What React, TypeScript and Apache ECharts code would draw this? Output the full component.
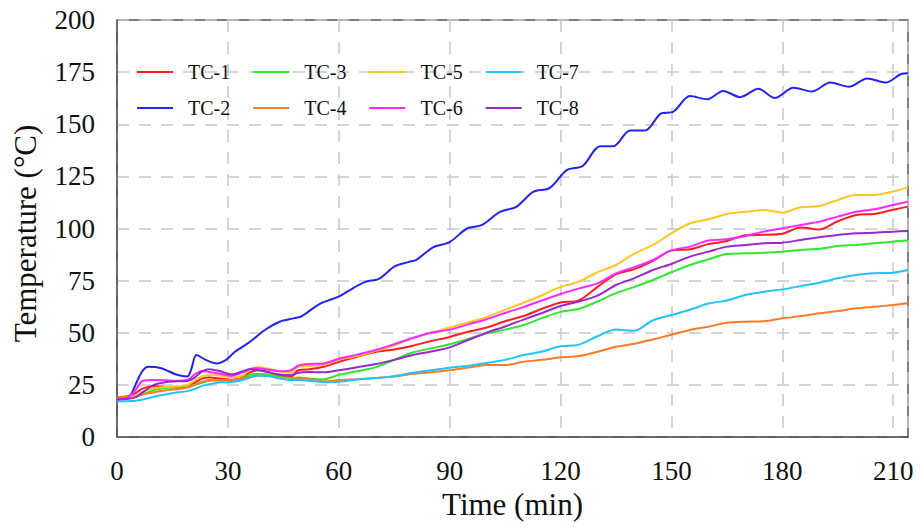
import React, { useEffect, useRef } from "react";
import * as echarts from "echarts";

const times = [0,3,5,7,10,13,16,19,21,23,25,28,31,34,36,38,41,44,47,49,52,56,60,65,70,75,80,85,90,95,100,105,110,115,120,125,130,135,140,145,150,155,160,165,170,175,180,185,190,195,200,205,210,214];

const tc1 = [19,19.5,21,23.3,24.5,24,23.8,24,26,28,28.5,28,27.5,28.5,31,32,31.2,29.5,28.8,32,32.5,33.7,36,38.5,40.8,42,43.8,46,48,50.5,52.5,55.5,58,61.5,64.5,65.5,72,78,80.5,84.5,89.5,90,92.5,94,96.8,97,97.5,100.5,99.5,103.5,106.5,107,109,110.5];
const tc3 = [18.5,18.8,19.3,20.5,22.5,23.5,23.8,24.1,25,26,27,27.3,27.3,28,30,30.2,30,28.8,28.3,28.1,28,27.7,29.8,31.5,33.5,37,40.5,42.5,44.5,47,49.7,51.5,53.7,57,60,61.5,65,69,72,75.3,79,82.5,85.2,87.8,88.1,88.4,88.9,89.7,90.3,91.6,92.1,92.9,93.7,94.2];
const tc4 = [19,19.3,19.7,20.5,21.5,22.3,22.9,23.7,25,26.5,27.3,27,27.2,28,29,29.4,29.2,28.2,27.3,28.5,27.9,26.7,27.3,27.7,28.3,29,30.3,31,32,33.3,34.5,34.5,36.1,37,38.2,38.8,40.9,43.3,44.7,46.8,49,51.3,52.9,54.8,55.3,55.5,56.9,58,59.3,60.4,61.7,62.5,63.3,64.1];
const tc5 = [18.5,18.8,19.3,21.5,23.5,24,24.3,25,27,29,29.7,29.5,28.8,29.5,32.5,33.4,32.8,31.5,30.8,33.7,34,34.7,37,38.8,41.3,44,47.3,50,52.5,55,57.5,61,64.4,68,72,74.5,79,82.5,88,92.1,97.7,102.5,104.4,107,108,108.9,107.6,110.2,110.8,113.7,116.1,116.1,117.7,119.6];
const tc6 = [18.5,19,22.5,27,27.3,27.2,27,27.3,30,31.7,31.2,30.3,29.4,31,32.6,33,32.3,31.5,32,34.2,35,35.3,37.5,39.5,41.7,44.5,47.5,50,51.5,54,56.5,59.5,62.3,65.5,68.6,71.3,73.7,78.5,81.5,84.9,89.5,91.3,94.2,94.8,96.4,98.5,100.1,101.7,103.3,105.7,108,109.2,111.3,112.9];
const tc7 = [17,17.2,17.4,18,19.3,20.4,21.3,22,23,24.5,25.3,26.2,26.4,27.3,28.5,29.4,29.2,28.2,27.3,27.3,27,26.3,26.5,27.6,28.3,29.2,30.8,32,33.2,34.2,35.5,37,39.3,41,43.5,44.3,48.3,51.5,51,56,58.5,61,64,65.5,68.1,69.7,70.8,72.4,74,76.1,77.7,78.5,78.8,80.1];
const tc8 = [18,18.3,19,21.5,25,26.3,26.7,26.9,28.5,31.5,32.5,31.5,30,31.5,32.5,32.2,31,30,29.6,30.8,31.2,31,32,33.5,35,37,39.3,41,43,46.5,50,53,56.3,59.5,62.8,65,67.8,72.9,76.2,80.1,83,86.5,88.9,91.3,92.1,92.9,93.2,94.5,95.8,96.9,97.7,98,98.5,98.8];

const timesTc2 = [0,3,4,5.5,7,8.5,12,16,19,20,21.5,24,27,29.5,32,36,40,44,48,50,55,60,63,67,71,75,79,81,85.5,90,94.7,98.8,103.6,108,112.6,117,121.7,126,130.7,134.3,138.8,142.9,147,150.5,155,159.7,164,168.6,173.5,178,183,188,193,198,203,208,212,214];
const tc2 = [18,19,21,27,32,33.7,33,30,29,32,39.3,37,35.3,37,41,45.7,51.3,55.3,57,58,64,67.3,70.5,74.3,76,81.7,84,85,91,93.5,100,101.7,108,110.4,117.6,119.4,128,130,139.5,139.5,147,147,155,156,163.5,162,166,163,167,162.6,167.5,165.7,170,168,172,170,174,174.5];

const seriesNames = ["TC-1", "TC-2", "TC-3", "TC-4", "TC-5", "TC-6", "TC-7", "TC-8"];
const seriesColors = ["#ff1f1f", "#2424f2", "#2ee82e", "#ff7a26", "#ffc425", "#ff26ff", "#22c4ff", "#9a27cf"];
const legendRow1 = ["TC-1", "TC-3", "TC-5", "TC-7"];
const legendRow2 = ["TC-2", "TC-4", "TC-6", "TC-8"];

const FONT = "Liberation Serif";

export default function App() {
  const ref = useRef<HTMLDivElement>(null);
  useEffect(() => {
    if (!ref.current) return;
    const chart = echarts.init(ref.current, null, { renderer: "svg" });
    const zip = (ts: number[], vs: number[]) => ts.map((t, i) => [t, vs[i]]);
    const values = [tc1, tc2, tc3, tc4, tc5, tc6, tc7, tc8];
    const series = seriesNames.map((name, i) => ({
      name,
      type: "line",
      data: i === 1 ? zip(timesTc2, tc2) : zip(times, values[i]),
      showSymbol: false,
      symbol: "none",
      smooth: 0.3,
      lineStyle: { width: 2, color: seriesColors[i] },
      itemStyle: { color: seriesColors[i] },
      z: 3,
    }));
    const legendBase = {
      left: 137,
      icon: "rect",
      itemWidth: 36,
      itemHeight: 2,
      itemGap: 23,
      padding: 0,
      textStyle: { fontFamily: FONT, fontSize: 20, color: "#111", padding: [0, 0, 0, 10] },
    };
    chart.setOption({
      animation: false,
      backgroundColor: "#fff",
      textStyle: { fontFamily: FONT },
      grid: {
        left: 117,
        right: 12,
        top: 20,
        bottom: 90,
        show: true,
        borderColor: "#555",
        borderWidth: 1.5,
        backgroundColor: "transparent",
      },
      legend: [
        { ...legendBase, top: 62, data: legendRow1 },
        { ...legendBase, top: 98, data: legendRow2 },
      ],
      xAxis: {
        type: "value",
        min: 0,
        max: 214,
        interval: 30,
        name: "Time (min)",
        nameLocation: "middle",
        nameGap: 52,
        nameTextStyle: { fontFamily: FONT, fontSize: 31, color: "#111" },
        axisLine: { show: true, lineStyle: { color: "#555", width: 1.5 } },
        axisTick: { show: false },
        axisLabel: { fontFamily: FONT, fontSize: 27, color: "#111", margin: 20, showMaxLabel: false },
        splitLine: { show: true, lineStyle: { color: "#c8c8c8", width: 1.5, type: [12, 10] } },
      },
      yAxis: {
        type: "value",
        min: 0,
        max: 200,
        interval: 25,
        name: "Temperature (°C)",
        nameLocation: "middle",
        nameGap: 76,
        nameTextStyle: { fontFamily: FONT, fontSize: 31, color: "#111", padding: [0, 10, 0, 0] },
        axisLine: { show: true, lineStyle: { color: "#555", width: 1.5 } },
        axisTick: { show: false },
        axisLabel: { fontFamily: FONT, fontSize: 27, color: "#111", margin: 22 },
        splitLine: { show: true, lineStyle: { color: "#c8c8c8", width: 1.5, type: [12, 10] } },
      },
      series,
    });
    return () => chart.dispose();
  }, []);
  return (
    <div
      ref={ref}
      style={{ position: "fixed", left: 0, top: 0, width: 920, height: 527, background: "#fff" }}
    />
  );
}
